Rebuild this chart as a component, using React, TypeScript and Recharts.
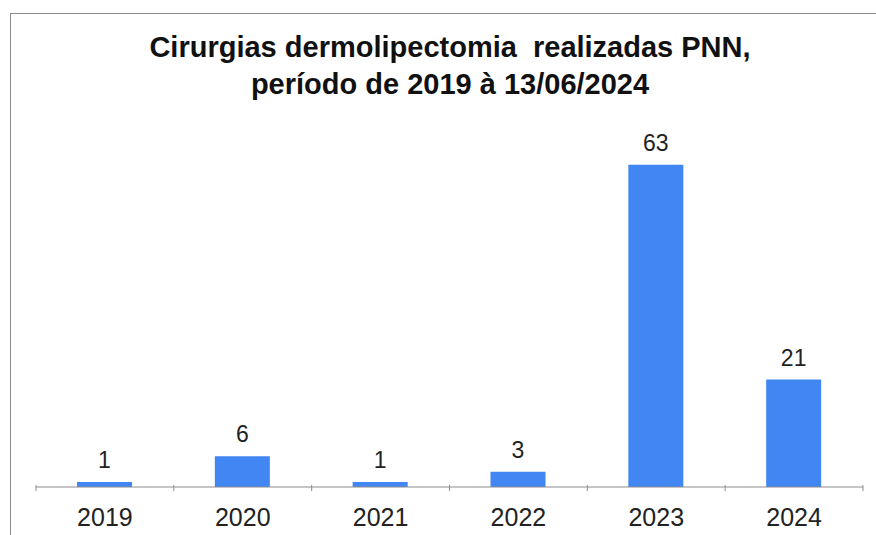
import { BarChart, Bar, XAxis, YAxis, LabelList } from 'recharts'

const years = ['2019', '2020', '2021', '2022', '2023', '2024']
const cirurgias = [1, 6, 1, 3, 63, 21]
const titleLines = [
  'Cirurgias dermolipectomia  realizadas PNN,',
  'período de 2019 à 13/06/2024',
]

const data = years.map((ano, i) => ({ ano, total: cirurgias[i] }))

const font = 'Arial, "Liberation Sans", sans-serif'
const axisColor = '#8c8c8c'

// label + tick marks on the category boundaries (Excel style)
function YearTick(props: any) {
  const { x, y, payload, index, visibleTicksCount } = props
  const half = payload.offset || 0
  const y0 = y - 23
  return (
    <g>
      <line x1={x - half} x2={x - half} y1={y0} y2={y0 + 6} stroke={axisColor} />
      {index === visibleTicksCount - 1 && (
        <line x1={x + half} x2={x + half} y1={y0} y2={y0 + 6} stroke={axisColor} />
      )}
      <text x={x} y={y} dy="0.71em" textAnchor="middle" fill="#222" fontSize={25} fontFamily={font}>
        {payload.value}
      </text>
    </g>
  )
}

export default function App() {
  return (
    <div style={{ position: 'absolute', left: 0, top: 0, width: 876, height: 535, overflow: 'hidden', background: '#fff', fontFamily: font }}>
      <div style={{ position: 'absolute', left: 10, top: 13, width: 900, height: 600, border: '1px solid #8c8c8c' }} />
      <div style={{ position: 'absolute', left: 0, top: 29, width: 900, textAlign: 'center', fontWeight: 'bold', fontSize: 29, lineHeight: '37px', color: '#111' }}>
        {titleLines.map((t) => (
          <div key={t} style={{ whiteSpace: 'pre' }}>{t}</div>
        ))}
      </div>
      <div style={{ position: 'absolute', left: 0, top: 0 }}>
        <BarChart width={876} height={535} data={data} margin={{ top: 129, right: 13, bottom: 0, left: 36 }}>
          <YAxis hide domain={[0, 70]} />
          <XAxis
            dataKey="ano"
            stroke={axisColor}
            tickLine={false}
            height={48}
            tickMargin={15}
            interval={0}
            tick={<YearTick />}
          />
          <Bar dataKey="total" fill="#4286f4" barSize={55} isAnimationActive={false}>
            <LabelList dataKey="total" position="top" offset={14} fill="#222" fontSize={23} fontFamily={font} />
          </Bar>
        </BarChart>
      </div>
    </div>
  )
}
